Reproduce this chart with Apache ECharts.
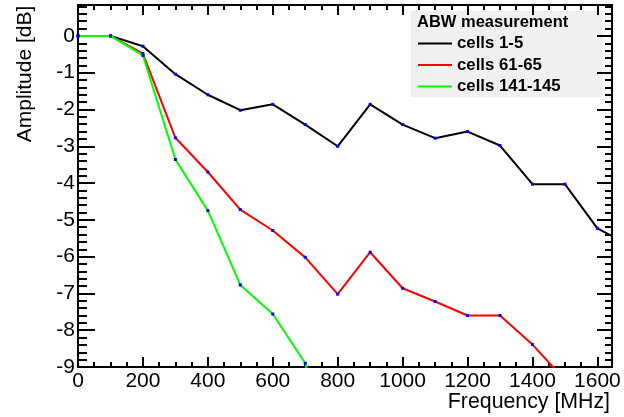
<!DOCTYPE html>
<html>
<head>
<meta charset="utf-8">
<script src="https://cdn.jsdelivr.net/npm/echarts@6/dist/echarts.min.js"></script>
<style>
  html, body { margin: 0; padding: 0; background: #fff; }
  #chart { width: 624px; height: 417px; }
</style>
</head>
<body>
<div id="chart"></div>
<script>
  // frequencies in MHz (last points fall outside the frame and get clipped)
  var freq = [0, 100, 200, 300, 400, 500, 600, 700, 800, 900, 1000, 1100, 1200, 1300, 1400, 1500, 1600, 1700];

  // amplitude in dB
  var cells1to5 = [0, 0, -0.28, -1.04, -1.6, -2.02, -1.86, -2.41, -3.0, -1.86, -2.41, -2.78, -2.6, -2.98, -4.03, -4.03, -5.23, -5.7];
  var cells61to65 = [0, 0, -0.48, -2.77, -3.7, -4.72, -5.29, -6.02, -7.02, -5.88, -6.86, -7.22, -7.6, -7.6, -8.39, -9.35, -10.2, null];
  var cells141to145 = [0, 0, -0.53, -3.36, -4.75, -6.77, -7.56, -8.9, -12, null, null, null, null, null, null, null, null, null];

  var seriesNames = ['cells 1-5', 'cells 61-65', 'cells 141-145'];
  var seriesColors = ['#000000', '#ff0000', '#00ff00'];
  var seriesValues = [cells1to5, cells61to65, cells141to145];

  var xMin = 0, xMax = 1645;
  var yMin = -9, yMax = 0.84;

  var font = '"Liberation Sans", Arial, Helvetica, sans-serif';

  function pairs(vals) {
    var out = [];
    for (var i = 0; i < freq.length; i++) {
      if (vals[i] !== null && vals[i] !== undefined) out.push([freq[i], vals[i]]);
    }
    return out;
  }

  // one axis = frame side + ticks; two grids on top of each other give major + minor ticks
  function xAx(grid, pos, interval, len, labels) {
    return {
      type: 'value', gridIndex: grid, position: pos, min: xMin, max: xMax, interval: interval,
      axisLine: { show: true, onZero: false, lineStyle: { color: '#000', width: 2 } },
      axisTick: { show: true, inside: true, length: len, lineStyle: { color: '#000', width: 2 } },
      splitLine: { show: false },
      axisLabel: {
        show: labels, margin: 4, color: '#000', fontFamily: font, fontSize: 21,
        formatter: function (v) { return v % 200 === 0 ? String(v) : ''; }
      }
    };
  }
  function yAx(grid, pos, interval, len, labels) {
    return {
      type: 'value', gridIndex: grid, position: pos, min: yMin, max: yMax, interval: interval,
      axisLine: { show: true, onZero: false, lineStyle: { color: '#000', width: 2 } },
      axisTick: { show: true, inside: true, length: len, lineStyle: { color: '#000', width: 2 } },
      splitLine: { show: false },
      axisLabel: {
        show: labels, margin: 3, color: '#000', fontFamily: font, fontSize: 21,
        formatter: function (v) { return Math.abs(v - Math.round(v)) < 1e-6 ? String(Math.round(v)) : ''; }
      }
    };
  }

  var gridBox = { left: 78, right: 12, top: 5, bottom: 50 };

  var series = [];
  for (var s = 0; s < seriesNames.length; s++) {
    series.push({
      name: seriesNames[s],
      type: 'line',
      xAxisIndex: 0,
      yAxisIndex: 0,
      data: pairs(seriesValues[s]),
      clip: true,
      symbol: 'rect',
      symbolSize: 3,
      showAllSymbol: true,
      lineStyle: { color: seriesColors[s], width: 2 },
      itemStyle: { color: '#0000ff' },
      emphasis: { disabled: true }
    });
  }

  var chart = echarts.init(document.getElementById('chart'), null, { renderer: 'canvas' });
  chart.setOption({
    animation: false,
    backgroundColor: '#fff',
    grid: [
      { left: gridBox.left, right: gridBox.right, top: gridBox.top, bottom: gridBox.bottom },
      { left: gridBox.left, right: gridBox.right, top: gridBox.top, bottom: gridBox.bottom }
    ],
    xAxis: [
      xAx(0, 'bottom', 200, 10, true),
      xAx(0, 'top', 200, 10, false),
      xAx(1, 'bottom', 50, 5, false),
      xAx(1, 'top', 50, 5, false)
    ],
    yAxis: [
      yAx(0, 'left', 1, 17, true),
      yAx(0, 'right', 1, 15, false),
      yAx(1, 'left', 0.2, 9, false),
      yAx(1, 'right', 0.2, 7, false)
    ],
    legend: {
      orient: 'vertical',
      left: 418,
      top: 35,
      padding: 0,
      itemGap: 4.5,
      itemWidth: 34,
      itemHeight: 2,
      icon: 'rect',
      selectedMode: false,
      textStyle: { fontFamily: font, fontSize: 16.8, fontWeight: 'bold', color: '#000' },
      data: seriesNames.map(function (n, i) {
        return { name: n, itemStyle: { color: seriesColors[i] } };
      })
    },
    graphic: [
      {
        type: 'rect', z: -1, left: 411, top: 11,
        shape: { width: 192, height: 86 },
        style: { fill: '#f0f0f0' }
      },
      {
        type: 'text', left: 417, top: 14,
        style: { text: 'ABW measurement', font: 'bold 16.5px ' + font, fill: '#000' }
      },
      {
        type: 'text', x: 610, y: 402,
        style: { text: 'Frequency [MHz]', font: '21.3px ' + font, fill: '#000', align: 'right', verticalAlign: 'middle' }
      },
      {
        type: 'text', x: 25, y: 74, rotation: Math.PI / 2,
        style: { text: 'Amplitude [dB]', font: '21px ' + font, fill: '#000', align: 'center', verticalAlign: 'middle' }
      }
    ],
    series: series
  });
</script>
</body>
</html>
